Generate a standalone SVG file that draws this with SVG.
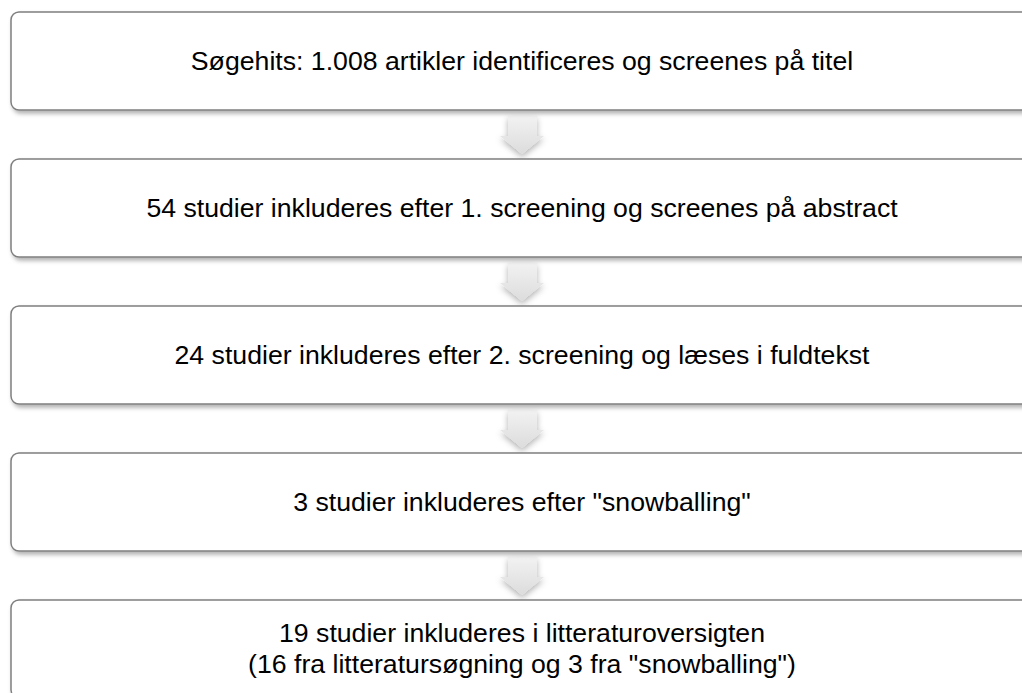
<svg xmlns="http://www.w3.org/2000/svg" width="1022" height="693" viewBox="0 0 1022 693">
<style>
.box{fill:#ffffff;stroke:#7f7f7f;stroke-width:1.5;filter:url(#sh)}
.lbl{font-family:"Liberation Sans",Arial,sans-serif;font-size:26.67px;fill:#000;text-anchor:middle}
.arr{fill:url(#ag);filter:url(#ash)}
</style>
<defs>
<filter id="sh" x="-5%" y="-10%" width="110%" height="130%">
<feDropShadow dx="2" dy="3" stdDeviation="2" flood-color="#000" flood-opacity="0.3"/>
</filter>
<filter id="ash" x="-50%" y="-30%" width="200%" height="170%">
<feDropShadow dx="0" dy="3" stdDeviation="3" flood-color="#000" flood-opacity="0.3"/>
</filter>
<linearGradient id="ag" x1="0" y1="0" x2="0" y2="1">
<stop offset="0" stop-color="#f2f2f2"/>
<stop offset="1" stop-color="#dcdcdc"/>
</linearGradient>
<path id="arrow" d="M508,116 H537 V136 H544 L522,154 L500,136 H508 Z"/>
</defs>
<g id="connectors">
<use href="#arrow" class="arr"/>
<use href="#arrow" class="arr" transform="translate(0,147)"/>
<use href="#arrow" class="arr" transform="translate(0,294)"/>
<use href="#arrow" class="arr" transform="translate(0,441)"/>
</g>
<g id="n1"><rect class="box" x="11" y="12" width="1030" height="98" rx="8"/><text class="lbl" x="522" y="70">Søgehits: 1.008 artikler identificeres og screenes på titel</text></g>
<g id="n2"><rect class="box" x="11" y="159" width="1030" height="98" rx="8"/><text class="lbl" x="522" y="217">54 studier inkluderes efter 1. screening og screenes på abstract</text></g>
<g id="n3"><rect class="box" x="11" y="306" width="1030" height="98" rx="8"/><text class="lbl" x="522" y="364">24 studier inkluderes efter 2. screening og læses i fuldtekst</text></g>
<g id="n4"><rect class="box" x="11" y="453" width="1030" height="98" rx="8"/><text class="lbl" x="522" y="511">3 studier inkluderes efter "snowballing"</text></g>
<g id="n5"><rect class="box" x="11" y="600" width="1030" height="98" rx="8"/><text class="lbl" x="522" y="642">19 studier inkluderes i litteraturoversigten</text><text class="lbl" x="522" y="673">(16 fra litteratursøgning og 3 fra "snowballing")</text></g>
</svg>
